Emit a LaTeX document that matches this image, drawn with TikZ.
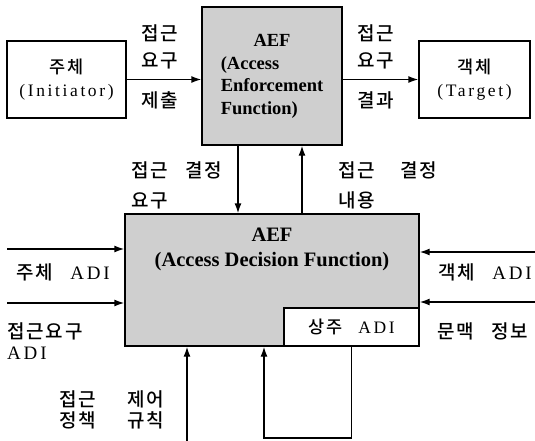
\documentclass[tikz,border=0pt]{standalone}
\usepackage{fontspec}
\setmainfont{Liberation Serif}
\newfontfamily\kr[UprightFont={* Medium},LetterSpace=10,WordSpace=2.8]{Noto Sans CJK KR}
\newfontfamily\ls[LetterSpace=15]{Liberation Serif}
\usepackage{tikz}
\usetikzlibrary{arrows.meta,positioning}
\definecolor{shade}{gray}{0.81}

\tikzset{
  box/.style={draw, line width=1.4pt, inner sep=0pt},
  func/.style={box, fill=shade, font=\fontsize{18.5}{22.5}\selectfont\bfseries},
  lbl/.style={inner sep=0pt, font=\fontsize{19}{27}\selectfont\kr},
  flow/.style={line width=1.4pt, -{Latex[length=10pt,width=7pt]}}
}

\begin{document}
\begin{tikzpicture}[x=1pt, y=-1pt]
  \useasboundingbox (0,0) rectangle (535,441);

  % enforcement row
  \node[box, minimum width=119pt, minimum height=77pt, align=center,
        font=\fontsize{17.5}{23}\selectfont] (ini) at (66.5,79.5) {{\kr 주체}\\{\ls (Initiator)}};
  \node[func, minimum width=140pt, minimum height=138pt] (aef) at (272,76)
    {\raisebox{-7pt}{\begin{tabular}{@{}l@{}}\multicolumn{1}{@{}c@{}}{AEF}\\(Access\\Enforcement\\Function)\end{tabular}}};
  \node[box, minimum width=111pt, minimum height=77pt, align=center,
        font=\fontsize{17.5}{23}\selectfont] (tgt) at (474.5,79.5) {{\kr 객체}\\{\ls (Target)}};

  % decision function
  \node[func, minimum width=294pt, minimum height=132pt,
        label={[anchor=north, yshift=-11pt, align=center, font=\fontsize{20.5}{25}\selectfont\bfseries]north:AEF\\(Access Decision Function)}] (adf) at (272,280) {};
  \node[box, fill=white, minimum width=135pt, minimum height=38pt,
        font=\fontsize{17.5}{23}\selectfont] (rad) at (351.5,327) {{\kr 상주 }{\ls ADI}};

  \coordinate (sin) at (7,249);
  \coordinate (rin) at (7,303);
  \coordinate (oin) at (535,252);
  \coordinate (cin) at (535,302);
  \coordinate (pin) at (187,441);
  \coordinate (lp) at (264,438);

  \draw[flow] (ini.east) -- (ini.east -| aef.west);
  \draw[flow] (aef.east |- tgt.west) -- (tgt.west);
  \draw[flow] ([xshift=-34pt]aef.south) -- ([xshift=-34pt]aef.south |- adf.north);
  \draw[flow] ([xshift=30pt]adf.north) -- ([xshift=30pt]adf.north |- aef.south);
  \draw[flow] (sin) -- (sin -| adf.west);
  \draw[flow] (rin) -- (rin -| adf.west);
  \draw[flow] (oin) -- (oin -| adf.east);
  \draw[flow] (cin) -- (cin -| adf.east);
  \draw[flow] (pin) -- (pin |- adf.south);
  \draw[flow] (rad.south) |- (lp) -- (lp |- adf.south);

  % labels
  \node[lbl, align=center] (reqt) at (160,47) {접근\\요구};
  \node[lbl] (reqb) at (160,100) {제출};
  \node[lbl, align=center] (rest) at (376,47) {접근\\요구};
  \node[lbl] (resb) at (376,100) {결과};
  \node[lbl, align=left, anchor=west, font=\fontsize{19}{30}\selectfont\kr] (dreq) at (131,185) {접근 결정\\요구};
  \node[lbl, align=left, anchor=west, font=\fontsize{19}{30}\selectfont\kr] (dres) at (338,185) {접근 \kern8pt 결정\\내용};
  \node[lbl, anchor=west] (sadi) at (16,272) {주체 {\ls ADI}};
  \node[lbl, anchor=west] (oadi) at (438,272) {객체 {\ls ADI}};
  \node[lbl, align=left, anchor=west, font=\fontsize{19}{21}\selectfont\kr] (radi) at (7,341) {접근요구\\{\ls ADI}};
  \node[lbl, anchor=west] (ctx) at (437,331) {문맥 정보};
  \node[lbl, align=left, anchor=west, font=\fontsize{19}{21}\selectfont\kr] (pol) at (59,410) {접근 \kern14pt 제어\\정책 \kern14pt 규칙};
\end{tikzpicture}
\end{document}
